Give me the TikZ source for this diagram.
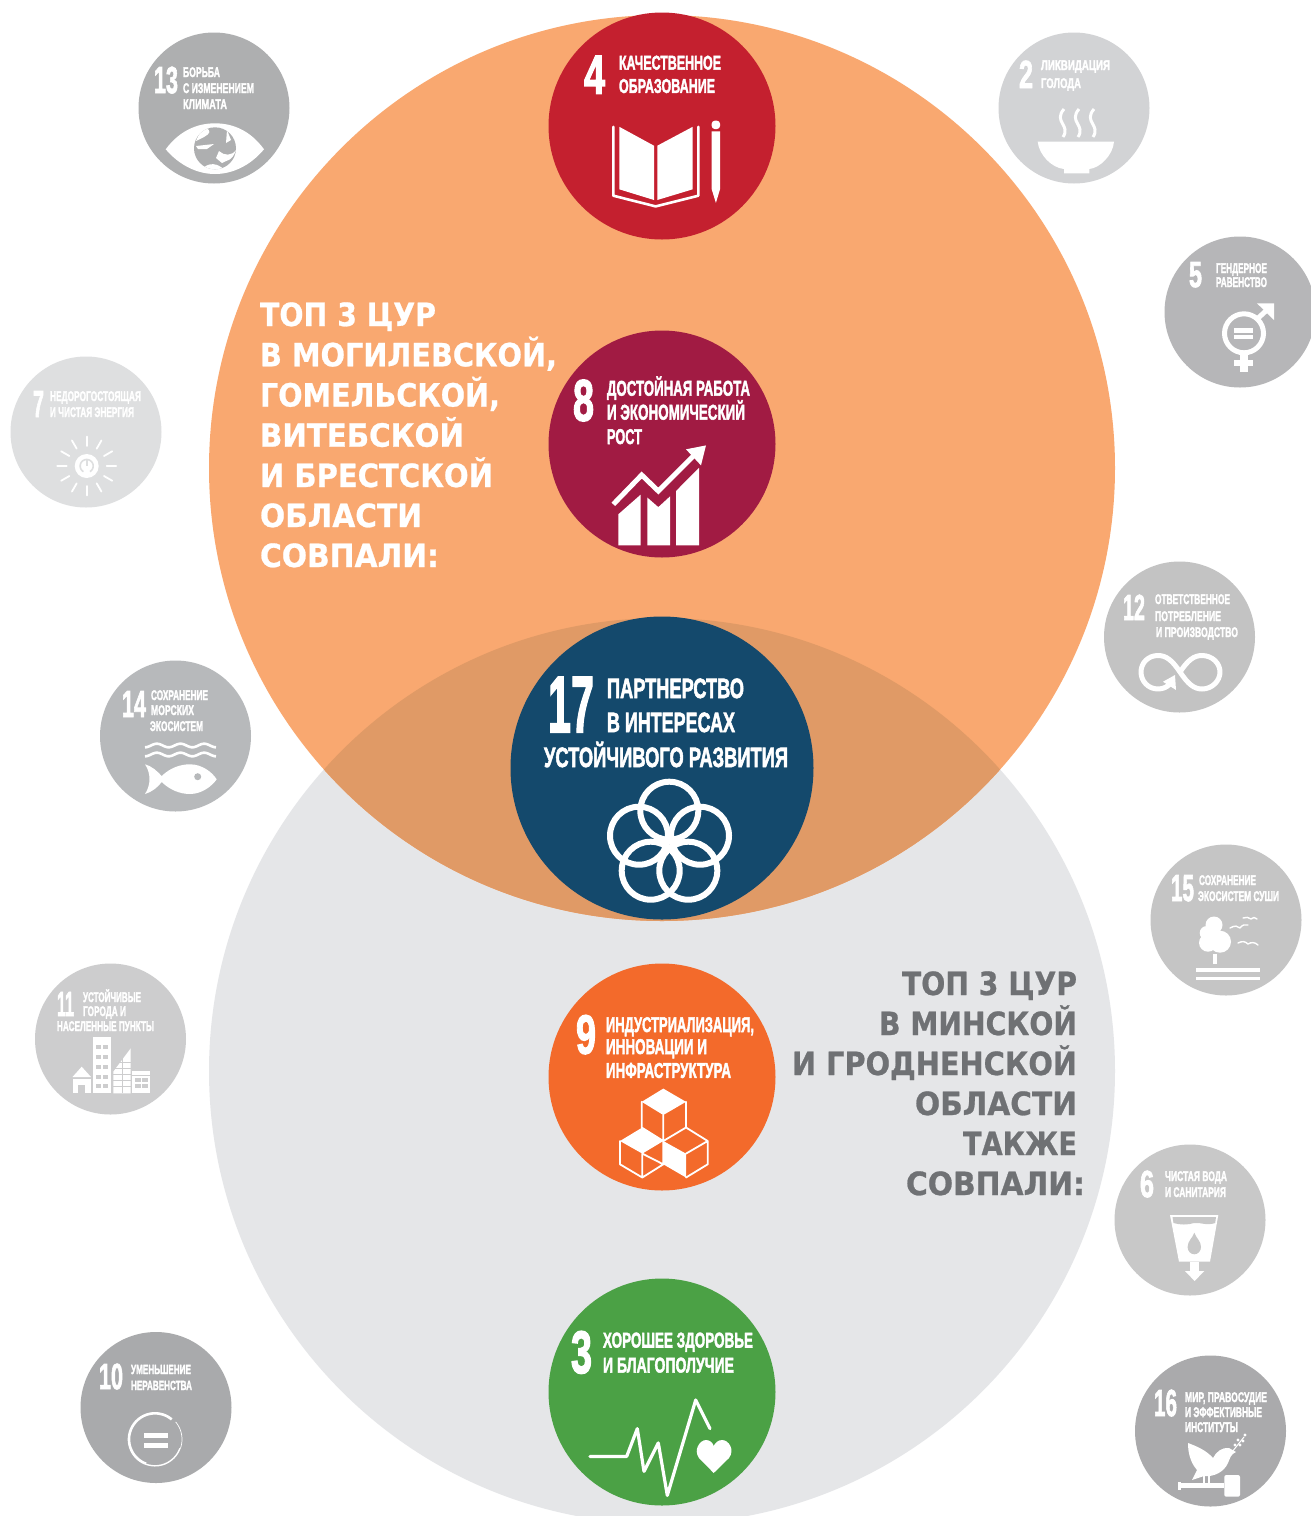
\documentclass[tikz,border=0pt]{standalone}
\usepackage{fontspec}
\usepackage{graphicx}
\newfontfamily\sdgfont[BoldFeatures={FakeBold=2.5}]{Liberation Sans}
\newfontfamily\headfont[BoldFeatures={FakeBold=0.8}]{DejaVu Sans}
\definecolor{orangebig}{HTML}{F9A870}
\definecolor{graybig}{HTML}{E5E6E8}
\definecolor{overlapc}{HTML}{E09A66}
\definecolor{cfour}{HTML}{C4202F}
\definecolor{ceight}{HTML}{A11B43}
\definecolor{cseventeen}{HTML}{14496C}
\definecolor{cnine}{HTML}{F36A2B}
\definecolor{cthree}{HTML}{4BA145}
\definecolor{cthirteen}{HTML}{AEAFB0}
\definecolor{cseven}{HTML}{DEDFE0}
\definecolor{cfourteen}{HTML}{B7B9BB}
\definecolor{celeven}{HTML}{CDCDCE}
\definecolor{cten}{HTML}{A9AAAC}
\definecolor{ctwo}{HTML}{D2D3D5}
\definecolor{cfive}{HTML}{B6B6B8}
\definecolor{ctwelve}{HTML}{C3C3C3}
\definecolor{cfifteen}{HTML}{C5C5C5}
\definecolor{csix}{HTML}{C8C8C8}
\definecolor{csixteen}{HTML}{AAAAAC}
\definecolor{headgray}{HTML}{6F7174}
\tikzset{
  bigdisc/.style={circle,inner sep=0pt,minimum size=227pt,draw=none},
  smalldisc/.style={circle,inner sep=0pt,minimum size=151pt,draw=none},
  hugedisc/.style={circle,inner sep=0pt,minimum size=303pt,draw=none},
  sdglabel/.style={anchor=base west,inner sep=0pt,outer sep=0pt,text=white},
  headlabel/.style={anchor=base west,inner sep=0pt,outer sep=0pt},
  ink/.style={fill=white,draw=none},
  pen/.style={draw=white,line width=#1,fill=none,line join=round,line cap=round}
}
\newcommand{\lbl}[6]{%
  \pgfmathsetmacro{\lblw}{#3-#2}\pgfmathsetmacro{\lblf}{#5/0.716}%
  \node[sdglabel] (#1) at (#2,#4) {\fontsize{\lblf pt}{\lblf pt}\sdgfont\bfseries\selectfont\resizebox{\lblw pt}{\height}{#6}};}
\newcommand{\hlbl}[5]{%
  \pgfmathsetmacro{\lblw}{#3-#2}%
  \node[headlabel] (#1) at (#2,#4) {\fontsize{32pt}{32pt}\headfont\bfseries\selectfont\resizebox{\lblw pt}{\height}{#5}};}
\begin{document}
\begin{tikzpicture}[x=1pt,y=-1pt]
\useasboundingbox (0,0) rectangle (1311,1516);
\fill[white] (0,0) rectangle (1311,1516);
\begin{scope}
\clip (0,0) rectangle (1311,1516);
% big circles
\fill[graybig] (662,1071) circle[radius=453];
\fill[orangebig] (662,468) circle[radius=453];
\begin{scope}
\clip (662,468) circle[radius=453];
\fill[overlapc] (662,1071) circle[radius=453];
\end{scope}
% discs
\node[bigdisc,fill=cfour] (d4) at (662,126) {};
\node[bigdisc,fill=ceight] (d8) at (662,444) {};
\node[hugedisc,fill=cseventeen] (d17) at (662,768) {};
\node[bigdisc,fill=cnine] (d9) at (662,1077) {};
\node[bigdisc,fill=cthree] (d3) at (662,1392) {};
\node[smalldisc,fill=cthirteen] (d13) at (214,108) {};
\node[smalldisc,fill=cseven] (d7) at (86,432) {};
\node[smalldisc,fill=cfourteen] (d14) at (175.5,736) {};
\node[smalldisc,fill=celeven] (d11) at (110.5,1039) {};
\node[smalldisc,fill=cten] (d10) at (156,1407.5) {};
\node[smalldisc,fill=ctwo] (d2) at (1074,108) {};
\node[smalldisc,fill=cfive] (d5) at (1240,312) {};
\node[smalldisc,fill=ctwelve] (d12) at (1179.5,637) {};
\node[smalldisc,fill=cfifteen] (d15) at (1226,920) {};
\node[smalldisc,fill=csix] (d6) at (1190,1220) {};
\node[smalldisc,fill=csixteen] (d16) at (1210.5,1431) {};
% headings
\begin{scope}[every node/.append style={text=white}]
\hlbl{ha1}{260}{436}{326}{ТОП 3 ЦУР}
\hlbl{ha2}{260}{557}{366.3}{В МОГИЛЕВСКОЙ,}
\hlbl{ha3}{260}{500}{406.5}{ГОМЕЛЬСКОЙ,}
\hlbl{ha4}{260}{464}{446.7}{ВИТЕБСКОЙ}
\hlbl{ha5}{260}{493}{487}{И БРЕСТСКОЙ}
\hlbl{ha6}{260}{422}{527}{ОБЛАСТИ}
\hlbl{ha7}{260}{439}{567}{СОВПАЛИ:}
\end{scope}
\begin{scope}[every node/.append style={text=headgray}]
\hlbl{hb1}{902}{1077}{995}{ТОП 3 ЦУР}
\hlbl{hb2}{879}{1077}{1035}{В МИНСКОЙ}
\hlbl{hb3}{792}{1077}{1075}{И ГРОДНЕНСКОЙ}
\hlbl{hb4}{915}{1077}{1115}{ОБЛАСТИ}
\hlbl{hb5}{963}{1077}{1155}{ТАКЖЕ}
\hlbl{hb6}{906}{1085}{1195}{СОВПАЛИ:}
\end{scope}
% labels
\lbl{n4}{584}{605}{93.6}{39.3}{4}
\lbl{t4a}{619}{721}{69.6}{14.3}{КАЧЕСТВЕННОЕ}
\lbl{t4b}{619}{715}{92.9}{14.3}{ОБРАЗОВАНИЕ}
\lbl{n8}{573}{594}{420.7}{42}{8}
\lbl{t8a}{607}{750}{395.7}{15.3}{ДОСТОЙНАЯ РАБОТА}
\lbl{t8b}{607}{745}{419.6}{15.3}{И ЭКОНОМИЧЕСКИЙ}
\lbl{t8c}{607}{642}{444}{15.3}{РОСТ}
\lbl{n17}{548}{594}{732}{57}{17}
\lbl{t17a}{607}{744}{698}{20}{ПАРТНЕРСТВО}
\lbl{t17b}{607}{735}{732}{20}{В ИНТЕРЕСАХ}
\lbl{t17c}{544}{788}{767}{20}{УСТОЙЧИВОГО РАЗВИТИЯ}
\lbl{n9}{576}{596}{1053.6}{39.5}{9}
\lbl{t9a}{606}{754}{1032}{15.3}{ИНДУСТРИАЛИЗАЦИЯ,}
\lbl{t9b}{606}{707}{1054}{15.3}{ИННОВАЦИИ И}
\lbl{t9c}{606}{731}{1077.8}{15.3}{ИНФРАСТРУКТУРА}
\lbl{n3}{571}{592}{1373}{43}{3}
\lbl{t3a}{603}{753}{1347.5}{15.3}{ХОРОШЕЕ ЗДОРОВЬЕ}
\lbl{t3b}{603}{734}{1372.5}{15.3}{И БЛАГОПОЛУЧИЕ}
\lbl{n13}{154}{178}{93}{27}{13}
\lbl{t13a}{183}{220}{77}{10}{БОРЬБА}
\lbl{t13b}{183}{254}{93}{10}{С ИЗМЕНЕНИЕМ}
\lbl{t13c}{183}{227}{109}{10}{КЛИМАТА}
\lbl{n7}{33}{44}{417}{27}{7}
\lbl{t7a}{50}{141}{401}{10}{НЕДОРОГОСТОЯЩАЯ}
\lbl{t7b}{50}{134}{417}{10}{И ЧИСТАЯ ЭНЕРГИЯ}
\lbl{n14}{122}{146}{717}{27}{14}
\lbl{t14a}{151}{208}{700}{10}{СОХРАНЕНИЕ}
\lbl{t14b}{151}{194}{715}{10}{МОРСКИХ}
\lbl{t14c}{150}{203}{731}{10}{ЭКОСИСТЕМ}
\lbl{n11}{57}{74}{1016}{25}{11}
\lbl{t11a}{83}{141}{1002}{10}{УСТОЙЧИВЫЕ}
\lbl{t11b}{83}{126}{1016}{10}{ГОРОДА И}
\lbl{t11c}{57}{154}{1031}{10}{НАСЕЛЕННЫЕ ПУНКТЫ}
\lbl{n10}{99}{123}{1389}{26}{10}
\lbl{t10a}{131}{191}{1374}{9.5}{УМЕНЬШЕНИЕ}
\lbl{t10b}{131}{192}{1390}{9.5}{НЕРАВЕНСТВА}
\lbl{n2}{1019}{1033}{88}{28}{2}
\lbl{t2a}{1041}{1110}{70}{10}{ЛИКВИДАЦИЯ}
\lbl{t2b}{1041}{1081}{88}{10}{ГОЛОДА}
\lbl{n5}{1189}{1202}{287}{26}{5}
\lbl{t5a}{1216}{1267}{273}{10}{ГЕНДЕРНОЕ}
\lbl{t5b}{1216}{1267}{287}{10}{РАВЕНСТВО}
\lbl{n12}{1123}{1145}{620}{26}{12}
\lbl{t12a}{1155}{1230}{604}{10}{ОТВЕТСТВЕННОЕ}
\lbl{t12b}{1155}{1221}{621}{10}{ПОТРЕБЛЕНИЕ}
\lbl{t12c}{1156}{1238}{637}{10}{И ПРОИЗВОДСТВО}
\lbl{n15}{1171}{1194}{901}{27}{15}
\lbl{t15a}{1199}{1256}{885}{10}{СОХРАНЕНИЕ}
\lbl{t15b}{1198}{1279}{901}{10}{ЭКОСИСТЕМ СУШИ}
\lbl{n6}{1140}{1154}{1197}{27}{6}
\lbl{t6a}{1165}{1227}{1181}{10}{ЧИСТАЯ ВОДА}
\lbl{t6b}{1165}{1226}{1197}{10}{И САНИТАРИЯ}
\lbl{n16}{1154}{1177}{1416}{27}{16}
\lbl{t16a}{1185}{1267}{1402}{10}{МИР, ПРАВОСУДИЕ}
\lbl{t16b}{1185}{1262}{1417}{10}{И ЭФФЕКТИВНЫЕ}
\lbl{t16c}{1185}{1238}{1432}{10}{ИНСТИТУТЫ}
% icon 4: book and pencil
\fill[ink] (619.3,126.8) -- (654,145.7) -- (654,200) -- (619.3,189.3) -- cycle;
\fill[ink] (657.3,145.7) -- (692.7,126.8) -- (692.7,189.3) -- (657.3,200) -- cycle;
\draw[pen=2.6] (613.3,126.8) -- (613.3,195.7) -- (655.7,206.4) -- (698.3,195.7) -- (698.3,126.8);
\fill[ink,rounded corners=3pt] (711.7,129) -- (711.7,120.7) -- (720,120.7) -- (720,129) -- cycle;
\fill[ink] (711.7,131.4) -- (720,131.4) -- (720,189.3) -- (715.9,202.9) -- (711.7,189.3) -- cycle;
% icon 8: chart
\fill[ink] (618.3,545.4) -- (618.3,514.3) -- (640.7,494.6) -- (640.7,545.4) -- cycle;
\fill[ink] (647.3,545.4) -- (647.3,497.5) -- (658.3,507.1) -- (670,496.4) -- (670,545.4) -- cycle;
\fill[ink] (676,545.4) -- (676,491) -- (699,467.9) -- (699,545.4) -- cycle;
\draw[draw=white,line width=5pt,line join=miter] (613.3,504.3) -- (641.7,475) -- (658.3,491) -- (693.3,456);
\fill[ink] (686,449.3) -- (706,445.4) -- (701,465.4) -- cycle;
% icon 17: flower
\foreach \cx/\cy in {669.3/810.7,639/835.7,700/835.7,650.7/870.7,688.3/870.7}
  \draw[draw=white,line width=6pt] (\cx,\cy) circle[radius=29];
% icon 9: cubes
\fill[ink] (663.3,1088.6) -- (686,1101.8) -- (663.3,1115) -- (641.7,1101.8) -- cycle;
\fill[ink] (642.3,1127.5) -- (663.3,1141) -- (642.3,1153.6) -- (620,1141) -- cycle;
\fill[ink] (663.3,1141) -- (686,1153.6) -- (686,1177.5) -- (663.3,1164.3) -- cycle;
\draw[pen=1.8] (641.7,1101.8) -- (641.7,1127.5) -- (663.3,1141) -- (686,1127.5) -- (686,1101.8) (663.3,1115) -- (663.3,1141)
 (620,1141) -- (620,1164.3) -- (642.3,1177.5) -- (663.3,1164.3) -- (663.3,1141) (642.3,1153.6) -- (642.3,1177.5)
 (642.3,1153.6) -- (663.3,1164.3)
 (686,1127.5) -- (707.7,1141) -- (707.7,1164.3) -- (686,1177.5) (686,1153.6) -- (707.7,1141);
% icon 3: heartbeat
\draw[pen=3.2] (590,1456.4) -- (626.7,1456.4) -- (637.3,1428.6) -- (644,1471.4) -- (658.3,1442.9) -- (667.3,1495.4) -- (695.7,1400) -- (710,1428.6);
\fill[ink] (713.7,1473) -- (699,1458) .. controls (693,1450) and (700,1440) .. (706,1440) .. controls (710,1440) and (713,1443) .. (713.7,1446) .. controls (715,1443) and (718,1440) .. (722,1440) .. controls (729,1440) and (735,1450) .. (729,1458) -- cycle;
% icon 13: eye and globe
\fill[ink] (165.7,149.3) .. controls (180,130) and (198,123.3) .. (215,123.3) .. controls (232,123.3) and (250,130) .. (264,149.3) .. controls (250,166) and (232,174) .. (215,174) .. controls (198,174) and (180,166) .. (165.7,149.3) -- cycle;
\fill[cthirteen] (215,148.3) circle[radius=21];
\begin{scope}
\clip (215,148.3) circle[radius=21];
\fill[ink] (205,128) .. controls (200,132) and (198,136) .. (196,141) -- (204,137) .. controls (210,134) and (212,130) .. (205,128) -- cycle;
\fill[ink] (196,146) -- (214,144) -- (207,149) -- (198,149) -- cycle;
\fill[ink] (219,151) .. controls (224,156) and (232,156) .. (236,150) .. controls (232,162) and (226,160) .. (222,163) -- (216,158) -- cycle;
\fill[ink] (203,168) .. controls (212,160) and (222,166) .. (226,172) -- (205,172) -- cycle;
\fill[ink] (227,130) -- (231,140) -- (226,143) -- cycle;
\end{scope}
% icon 7: sun
\foreach \a in {0,30,...,330}
  \draw[draw=white,line width=1.8pt,line cap=round] ({86.7+20*cos(\a)},{466+20*sin(\a)}) -- ({86.7+29.5*cos(\a)},{466+29.5*sin(\a)});
\fill[ink] (86.7,466) circle[radius=12];
\draw[draw=cseven,line width=1.6pt] plot[domain=-60:240,samples=30,smooth] ({86.7+6.5*cos(\x)},{466-6.5*sin(\x)});
\draw[draw=cseven,line width=1.6pt] (86.7,459) -- (86.7,466);
% icon 14: waves and fish
\draw[draw=white,line width=2.6pt] plot[domain=0:71,samples=60,smooth] ({145+\x},{745.5+1.8*sin(\x/71*3*360+90)});
\draw[draw=white,line width=2.6pt] plot[domain=0:71,samples=60,smooth] ({145+\x},{754.5+1.8*sin(\x/71*3*360+90)});
\fill[ink] (145,764.3) .. controls (152,766) and (158,772) .. (161.7,776) .. controls (170,768) and (180,764.3) .. (190,764.3) .. controls (202,764.3) and (212,772) .. (216.7,779.3) .. controls (212,786) and (202,794) .. (190,794) .. controls (180,794) and (170,790) .. (161.7,782) .. controls (158,787) and (152,792) .. (145,794) .. controls (151,785) and (151,773) .. (145,764.3) -- cycle;
\fill[cfourteen] (197.7,776.7) circle[radius=3.5];
% icon 11: city
\fill[ink] (93.3,1036.7) rectangle (110.7,1093.3);
\foreach \wy in {1045,1055,1065,1075,1084.3}{
  \fill[celeven] (96,\wy) rectangle (101.2,\wy+4);
  \fill[celeven] (103.3,\wy) rectangle (108.3,\wy+4);
}
\fill[ink] (81.7,1066.7) -- (91,1077) -- (72.5,1077) -- cycle;
\fill[ink] (72.7,1078.5) rectangle (90.7,1093.3);
\fill[celeven] (78.3,1085) rectangle (85,1093.3);
\fill[ink] (130.7,1048.3) -- (113.3,1071.7) -- (113.3,1093.3) -- (130.7,1093.3) -- cycle;
\foreach \wy in {1062,1068,1074,1080,1086}
  \draw[draw=celeven,line width=1pt] (113.3,\wy) -- (130.7,\wy);
\draw[draw=celeven,line width=1pt] (122,1056) -- (122,1093.3);
\fill[ink] (132.3,1070.7) rectangle (150,1093.3);
\draw[draw=celeven,line width=1.2pt] (132.3,1075.5) -- (150,1075.5);
\fill[celeven] (134.5,1078) rectangle (140.5,1082);
\fill[celeven] (142,1078) rectangle (148,1082);
\fill[celeven] (134.5,1084) rectangle (140.5,1088);
\fill[celeven] (142,1084) rectangle (148,1088);
% icon 10: reduced inequalities
\draw[draw=white,line width=2.6pt] plot[domain=50:250,samples=40,smooth] ({155+26*cos(\x)},{1439.3-26*sin(\x)});
\draw[draw=white,line width=1.4pt] plot[domain=250:340,samples=20,smooth] ({155+26.5*cos(\x)},{1439.3-26.5*sin(\x)});
\draw[draw=white,line width=.7pt] plot[domain=340:400,samples=20,smooth] ({155+27*cos(\x)},{1439.3-27*sin(\x)});
\fill[ink] (144,1432.7) rectangle (168.3,1437.7);
\fill[ink] (144,1442.7) rectangle (168.3,1447.7);
% icon 2: bowl
\fill[ink] (1037.7,141.7) -- (1114,141.7) .. controls (1113,155) and (1100,168) .. (1089.3,169) -- (1089.3,173.3) -- (1064,173.3) -- (1064,169) .. controls (1052,168) and (1039,155) .. (1037.7,141.7) -- cycle;
\foreach \sx in {1064,1079,1094}
  \draw[draw=white,line width=3pt] (\sx,109) .. controls (\sx-11,122) and (\sx+7,125) .. (\sx-1,137);
% icon 5: gender
\draw[draw=white,line width=5pt] (1244,333.3) circle[radius=19.5];
\fill[ink] (1234.3,328.3) rectangle (1253.3,332.7);
\fill[ink] (1234.3,335) rectangle (1253.3,339.3);
\fill[ink] (1240,354) rectangle (1248,371.7);
\fill[ink] (1234,360) rectangle (1253.3,365.7);
\draw[draw=white,line width=5pt] (1256,320) -- (1268,309);
\fill[ink] (1274,303.3) -- (1257,303.3) -- (1274,320) -- cycle;
% icon 12: infinity
\draw[pen=5] (1180,672) .. controls (1172,660) and (1166,655.5) .. (1158,655.5) .. controls (1148,655.5) and (1141,663) .. (1141,672) .. controls (1141,681) and (1148,689) .. (1158,689) .. controls (1163,689) and (1167,687) .. (1170,684);
\draw[pen=5] (1180,672) .. controls (1188,660) and (1194,655.5) .. (1202,655.5) .. controls (1212,655.5) and (1220,663) .. (1220,672) .. controls (1220,681) and (1212,689) .. (1202,689) .. controls (1194,689) and (1188,684) .. (1180,672);
\fill[ink] (1175,675) -- (1176,690) -- (1163,681.7) -- cycle;
% icon 15: tree and birds
\fill[ink] (1214,925) circle[radius=8.5] (1206.7,933) circle[radius=7] (1220,941.7) circle[radius=11] (1208,942.7) circle[radius=9];
\fill[ink] (1212.7,954) rectangle (1217.3,964);
\fill[ink] (1196,968.3) rectangle (1260,971.7);
\fill[ink] (1196,976.7) rectangle (1260,980);
\draw[pen=1.4] (1230,928) .. controls (1235,925) and (1238,926) .. (1240,928) .. controls (1242,925) and (1245,924) .. (1248,925);
\draw[pen=1.4] (1243,918) .. controls (1246,917) and (1249,917) .. (1251,919) .. controls (1253,917) and (1255,917) .. (1257,919);
\draw[pen=1.4] (1238,943) .. controls (1242,941) and (1245,941) .. (1248,944) .. controls (1251,942) and (1255,942) .. (1258,945);
% icon 6: water
\fill[ink] (1170,1215) -- (1218.3,1215) -- (1210,1261.7) -- (1179,1261.7) -- cycle;
\fill[csix] (1172.5,1217) -- (1216,1217) -- (1215.2,1223) .. controls (1206,1226) and (1200,1222) .. (1194,1223) .. controls (1188,1225) and (1180,1225) .. (1173.5,1223) -- cycle;
\fill[csix] (1194.3,1232.7) .. controls (1196,1238) and (1201,1241) .. (1201,1247) .. controls (1201,1251) and (1198,1254.3) .. (1194.3,1254.3) .. controls (1190.6,1254.3) and (1187.6,1251) .. (1187.6,1247) .. controls (1187.6,1241) and (1192.6,1238) .. (1194.3,1232.7) -- cycle;
\fill[ink] (1190,1261.7) rectangle (1199,1272);
\fill[ink] (1185,1271) -- (1204.3,1271) -- (1194.6,1281) -- cycle;
% icon 16: dove and gavel
\fill[ink] (1188,1443) .. controls (1196,1446) and (1206,1450) .. (1213,1458) .. controls (1216,1452) and (1222,1447) .. (1229,1448) -- (1236,1452) .. controls (1231,1454) and (1230,1458) .. (1228,1463) .. controls (1224,1472) and (1214,1477) .. (1204,1476) -- (1192,1480) -- (1197,1470) .. controls (1190,1462) and (1188,1452) .. (1188,1443) -- cycle;
\draw[pen=1.4] (1204,1476) -- (1204,1484) (1209,1476) -- (1209,1484);
\draw[pen=1] (1232,1452) -- (1244,1437);
\foreach \lx/\ly in {1235/1445,1240/1445,1243/1441,1238/1440,1245/1435}
  \fill[ink] (\lx,\ly) circle[radius=1.7];
\fill[ink] (1179,1483.3) rectangle (1224.3,1487.7);
\fill[ink] (1178,1481.5) rectangle (1181,1489.5);
\fill[ink,rounded corners=2pt] (1224.3,1475) rectangle (1240,1496.7);
\end{scope}
\end{tikzpicture}
\end{document}
